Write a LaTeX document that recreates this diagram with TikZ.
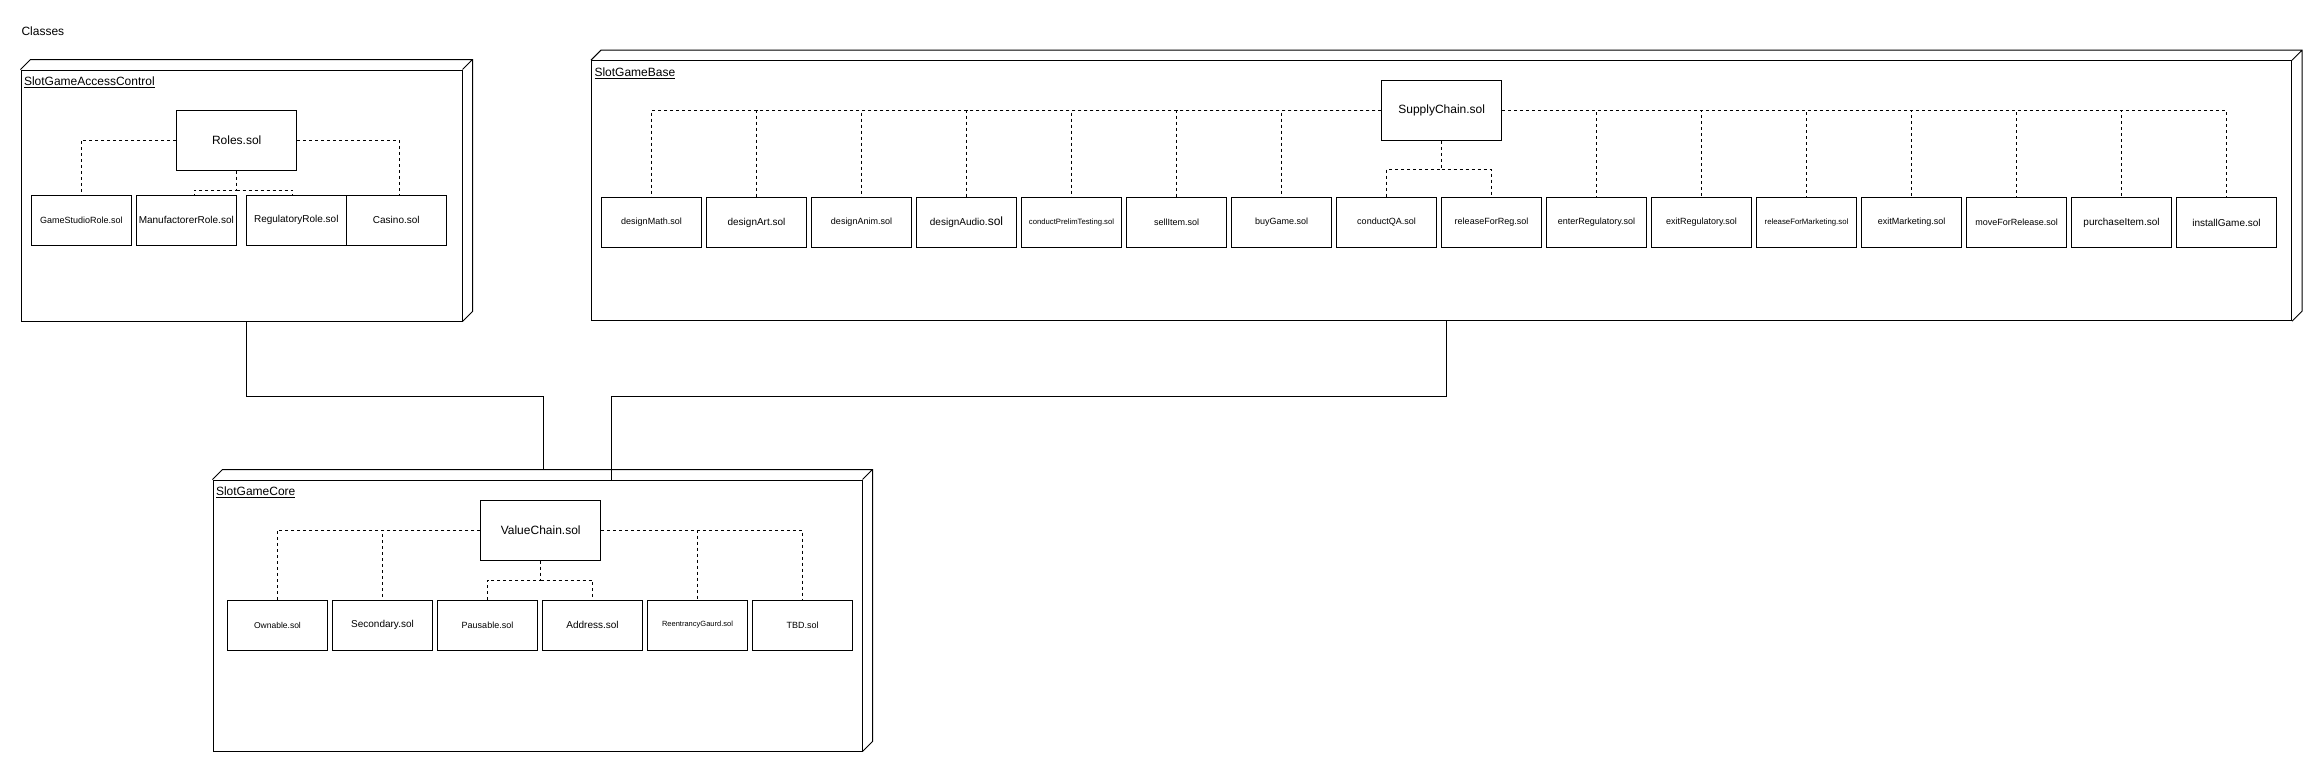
\documentclass[tikz,border=0pt]{standalone}
\usepackage{fontspec}
\setmainfont{Liberation Sans}
\usepackage{tikz}

\begin{document}
\begin{tikzpicture}[x=1pt,y=-1pt,line width=1pt,
        every node/.style={inner sep=0pt},
        fs/.style={font=\fontsize{#1}{#1}\selectfont},
        parent/.style={draw,minimum width=120pt,minimum height=60pt,fs=12},
        cls/.style={draw,minimum width=100pt,minimum height=50pt,fs=9},
        dep/.style={dash pattern=on 3pt off 3pt},
        title/.style={anchor=base west,fs=12}]
        \useasboundingbox (0,0) rectangle (2322,771);
        \node[anchor=west,fs=12] (classes) at (21,31) {Classes};
        % packages
        \node[draw,minimum width=441pt,minimum height=251pt] (acc) at (241.5,195.5) {};
        \node[draw,minimum width=1700pt,minimum height=260pt] (base) at (1441.5,190.7) {};
        \node[draw,minimum width=649pt,minimum height=271pt] (core) at (537.5,615.5) {};
        \foreach \c in {acc,base,core}
            \draw (\c.north west) -- ++(10,-10) -| ([shift={(10,-10)}]\c.south east) -- (\c.south east)
                (\c.north east) -- ++(10,-10);
        \node[title] (acctitle) at ([xshift=3pt,yshift=-16pt]acc.north west) {\underline{SlotGameAccessControl}};
        \node[title] (basetitle) at ([xshift=3pt,yshift=-16pt]base.north west) {\underline{SlotGameBase}};
        \node[title] (coretitle) at ([xshift=3pt,yshift=-16pt]core.north west) {\underline{SlotGameCore}};
        % SlotGameAccessControl
        \node[parent] (roles) at (236.7,140) {Roles.sol};
        \node[cls,fs=9] (gsrole) at (81.3,220) {GameStudioRole.sol};
        \node[cls,fs=10] (mfrole) at (186.3,220) {ManufactorerRole.sol};
        \node[cls,fs=10] (regrole) at (296.3,220) {RegulatoryRole.sol};
        \node[cls,fs=10] (casino) at (396.3,220) {Casino.sol};
        \coordinate (rolesfork) at (236.7,190);
        \draw[dep] (roles.west) -| (gsrole.north);
        \draw[dep] (roles.east) -| ([xshift=3pt]casino.north);
        \draw[dep] (roles.south) -- (rolesfork) -| ([xshift=8pt]mfrole.north);
        \draw[dep] (rolesfork) -| ([xshift=-4pt]regrole.north);
        % SlotGameBase
        \node[parent] (supply) at (1441.7,110.3) {SupplyChain.sol};
        \foreach \n/\t/\s [count=\i from 0] in {dmath/designMath.sol/9, dart/designArt.sol/10,
                danim/designAnim.sol/9, daudio/{designAudio.{\fontsize{12}{12}\selectfont sol}}/10,
                prelim/conductPrelimTesting.sol/7.7, sell/sellItem.sol/9, buy/buyGame.sol/9,
                qa/conductQA.sol/9, relreg/releaseForReg.sol/9, entreg/enterRegulatory.sol/9,
                exitreg/exitRegulatory.sol/9, relmkt/releaseForMarketing.sol/7.8,
                exitmkt/exitMarketing.sol/9, moverel/moveForRelease.sol/9,
                purchase/purchaseItem.sol/10, install/installGame.sol/10}
            \node[cls,fs=\s] (\n) at (651.5+105*\i,222.5) {\t};
        \foreach \n in {dmath,dart,danim,daudio,prelim,sell,buy}
            \draw[dep] (supply.west) -| (\n.north);
        \foreach \n in {entreg,exitreg,relmkt,exitmkt,moverel,purchase,install}
            \draw[dep] (supply.east) -| (\n.north);
        \coordinate (supplyfork) at (1441.7,169.3);
        \draw[dep] (supply.south) -- (supplyfork) -| (qa.north);
        \draw[dep] (supplyfork) -| (relreg.north);
        % SlotGameCore
        \node[parent] (value) at (540.7,530) {ValueChain.sol};
        \foreach \n/\t/\s [count=\i from 0] in {ownable/Ownable.sol/8.5, secondary/Secondary.sol/10,
                pausable/Pausable.sol/9, address/Address.sol/10,
                reentrancy/ReentrancyGaurd.sol/7.5, tbd/TBD.sol/9}
            \node[cls,fs=\s] (\n) at (277.5+105*\i,625) {\t};
        \foreach \n in {ownable,secondary}
            \draw[dep] (value.west) -| (\n.north);
        \foreach \n in {reentrancy,tbd}
            \draw[dep] (value.east) -| (\n.north);
        \coordinate (valuefork) at (540.7,580);
        \draw[dep] (value.south) -- (valuefork) -| (pausable.north);
        \draw[dep] (valuefork) -| (address.north);
        % links between packages
        \coordinate (accout) at ([xshift=5pt]acc.south);
        \coordinate (baseout) at ([xshift=5pt]base.south);
        \coordinate (corein) at ([xshift=5.5pt,yshift=10pt]core.north);
        \coordinate (corein2) at ([xshift=73.5pt]core.north);
        \draw (accout) -- ++(0,75) -| (corein);
        \draw (baseout) -- ++(0,75.3) -| (corein2);
\end{tikzpicture}
\end{document}
